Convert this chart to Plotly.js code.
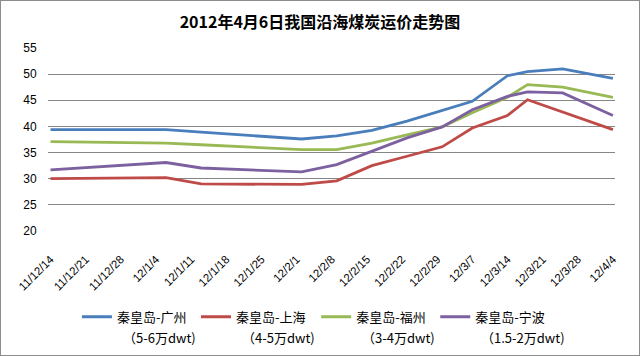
<!DOCTYPE html>
<html>
<head>
<meta charset="utf-8">
<script src="https://cdn.plot.ly/plotly-3.0.1.min.js"></script>
<style>
html,body{margin:0;padding:0;background:#fff;}
#chart{width:638px;height:354px;border:1px solid #8c8c8c;}
</style>
</head>
<body>
<div id="chart"></div>
<script>
// data dates (x positions of points)
const dates = ['2011-12-14','2012-01-06','2012-01-13','2012-02-02','2012-02-09','2012-02-16','2012-02-23','2012-03-01','2012-03-07','2012-03-14','2012-03-18','2012-03-25','2012-04-04'];
const guangzhou = [39.4, 39.4, 38.9, 37.6, 38.2, 39.25, 41.0, 43.0, 44.8, 49.7, 50.5, 51.0, 49.2];
const shanghai  = [30.0, 30.2, 29.0, 28.9, 29.6, 32.5, 34.3, 36.1, 39.7, 42.1, 45.1, 42.7, 39.4];
const fuzhou    = [37.1, 36.8, 36.5, 35.55, 35.55, 36.8, 38.4, 39.9, 42.6, 45.6, 48.0, 47.5, 45.55];
const ningbo    = [31.7, 33.1, 32.05, 31.3, 32.7, 35.2, 37.8, 39.9, 43.2, 45.75, 46.6, 46.4, 42.1];

const seriesNames = ['秦皇岛-广州','秦皇岛-上海','秦皇岛-福州','秦皇岛-宁波'];
const seriesSubNames = ['（5-6万dwt)','（4-5万dwt)','（3-4万dwt)','（1.5-2万dwt)'];
const seriesColors = ['#4A7EBB','#BE4B48','#98B954','#7D60A0'];

const tickDates = ['2011-12-14','2011-12-21','2011-12-28','2012-01-04','2012-01-11','2012-01-18','2012-01-25','2012-02-01','2012-02-08','2012-02-15','2012-02-22','2012-02-29','2012-03-07','2012-03-14','2012-03-21','2012-03-28','2012-04-04'];
const tickLabels = ['11/12/14','11/12/21','11/12/28','12/1/4','12/1/11','12/1/18','12/1/25','12/2/1','12/2/8','12/2/15','12/2/22','12/2/29','12/3/7','12/3/14','12/3/21','12/3/28','12/4/4'];
const yTicks = [20,25,30,35,40,45,50,55];

const legendIds = ['legend','legend2','legend3','legend4'];
const legendX = [0.051, 0.261, 0.473, 0.683];
const PLOT_W = 567;

const allSeries = [guangzhou, shanghai, fuzhou, ningbo];
const traces = allSeries.map((ys, i) => ({
  x: dates, y: ys, type: 'scatter', mode: 'lines', name: seriesNames[i],
  legend: legendIds[i],
  line: {color: seriesColors[i], width: 2.8}
}));

const legendFont = {family: 'Noto Sans CJK SC', size: 13, color: '#000'};
const layout = {
  width: 638, height: 354,
  margin: {l: 47, r: 24, t: 47, b: 124, autoexpand: false},
  paper_bgcolor: '#ffffff', plot_bgcolor: 'rgba(0,0,0,0)',
  font: {family: 'Liberation Sans, Arial, sans-serif', size: 12, color: '#000'},
  title: {text: '<b>2012年4月6日我国沿海煤炭运价走势图</b>', x: 0.5, xanchor: 'center', y: 0.94, yanchor: 'middle',
          font: {family: 'Noto Sans CJK SC', size: 16, color: '#000'}},
  xaxis: {
    type: 'date', range: ['2011-12-13 12:00','2012-04-04 10:00'], automargin: false,
    tickmode: 'array', tickvals: tickDates, ticktext: tickLabels, tickangle: -45,
    showgrid: false, zeroline: false, showline: false,
    ticks: 'outside', ticklen: 16, tickcolor: 'rgba(0,0,0,0)',
    tickfont: {family: 'Liberation Sans, Arial, sans-serif', size: 11.5, color: '#000'}
  },
  yaxis: {
    range: [20, 55], tickmode: 'array', tickvals: yTicks, automargin: false,
    showgrid: true, gridcolor: '#868686', gridwidth: 1, zeroline: false, showline: false,
    ticks: 'outside', ticklen: 8, tickcolor: 'rgba(0,0,0,0)',
    tickfont: {family: 'Liberation Sans, Arial, sans-serif', size: 12, color: '#000'}
  },
  showlegend: true,
  annotations: seriesSubNames.map((t, i) => ({
    text: t, xref: 'paper', yref: 'paper', x: legendX[i] + 44 / PLOT_W, y: -0.58,
    xanchor: 'left', yanchor: 'middle', showarrow: false, font: legendFont
  }))
};
legendIds.forEach((id, i) => {
  layout[id] = {orientation: 'h', x: legendX[i], xanchor: 'left', y: -0.387, yanchor: 'top',
                valign: 'middle', font: legendFont, bgcolor: 'rgba(0,0,0,0)'};
});

Plotly.newPlot('chart', traces, layout, {displayModeBar: false, staticPlot: true});
</script>
</body>
</html>
